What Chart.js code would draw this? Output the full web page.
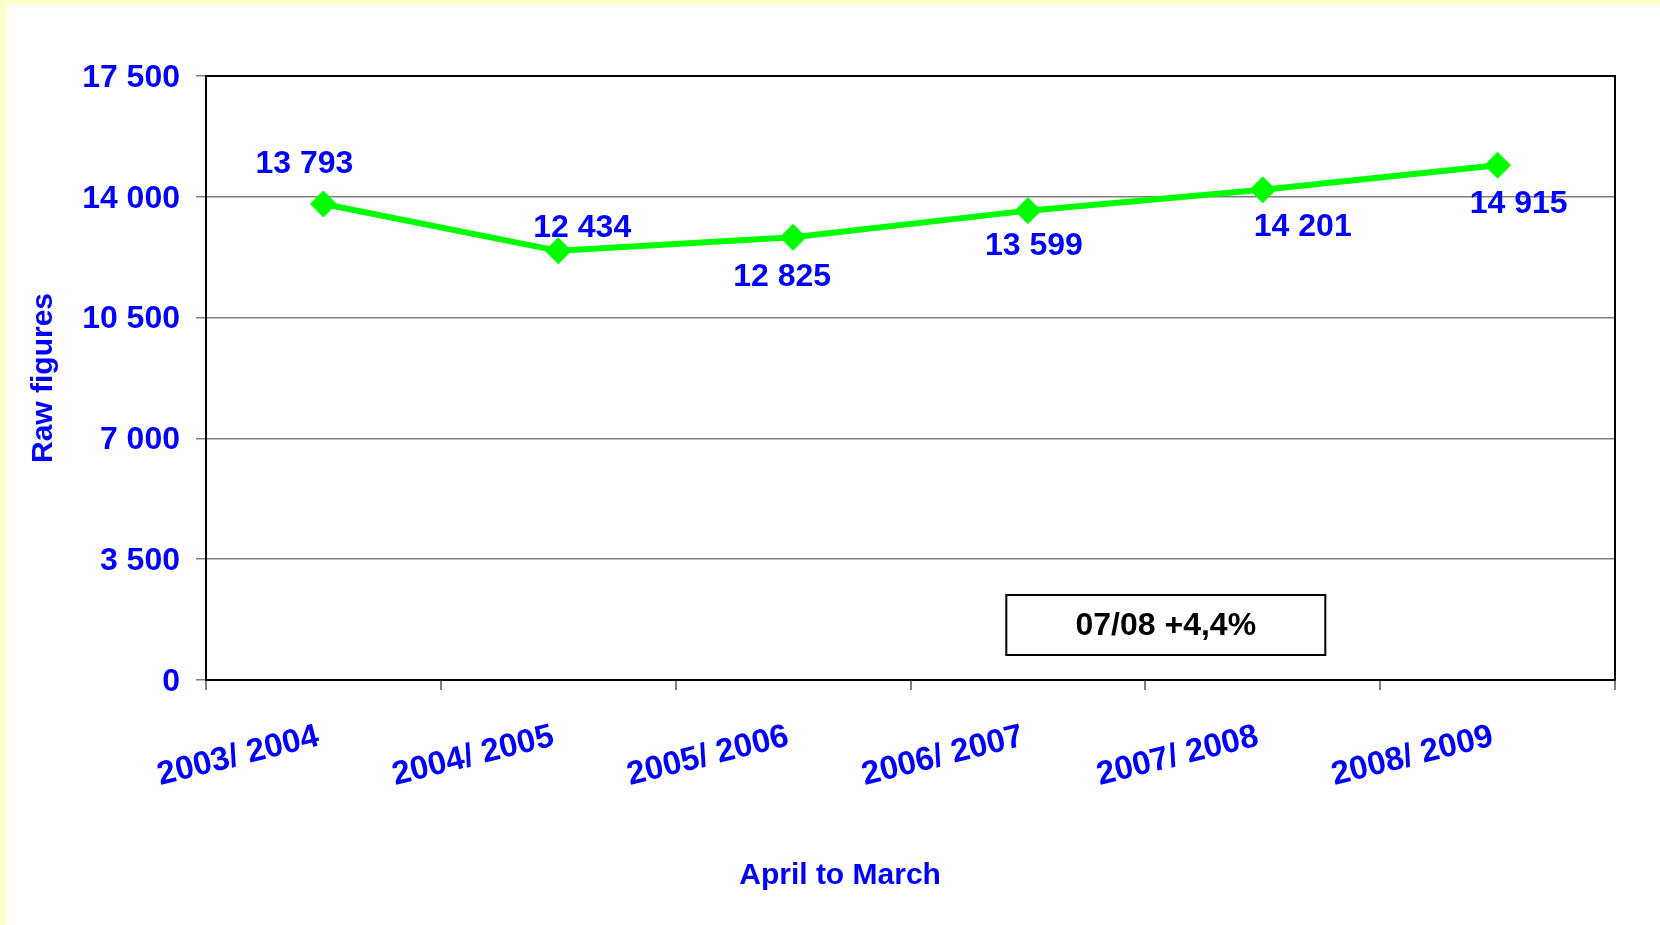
<!DOCTYPE html>
<html>
<head>
<meta charset="utf-8">
<script src="https://cdn.jsdelivr.net/npm/chart.js@4/dist/chart.umd.min.js"></script>
<style>
  body { margin: 0; background: #ffffcc; width: 1660px; height: 925px; overflow: hidden; }
  #wrap { position: absolute; left: 7px; top: 5px; width: 1653px; height: 920px; background: #ffffff; }
</style>
</head>
<body>
<div id="wrap"><canvas id="chart" width="1653" height="920"></canvas></div>
<script>
var years = ["2003/ 2004", "2004/ 2005", "2005/ 2006", "2006/ 2007", "2007/ 2008", "2008/ 2009"];
var figures = [13793, 12434, 12825, 13599, 14201, 14915];
var yTicks = [0, 3500, 7000, 10500, 14000, 17500];
var boxText = "07/08 +4,4%";
var xTitle = "April to March";

var FONT = "'Liberation Sans', Arial, sans-serif";
var BLUE = '#0000ff';

function spaced(v) {
  return String(v).replace(/\B(?=(\d{3})+(?!\d))/g, ' ');
}

// where each value label sits relative to its point
var labelShift = [[-19, -40], [24, -23], [-11, 40], [6, 36], [40, 37], [21, 39]];

var extras = {
  id: 'extras',
  afterDatasetsDraw: function (chart) {
    var c = chart.ctx, a = chart.chartArea;
    var w = a.right - a.left;
    c.save();
    // frame around plot
    c.strokeStyle = '#000';
    c.lineWidth = 2;
    c.strokeRect(a.left, a.top, w, a.bottom - a.top);

    // value labels
    c.fillStyle = BLUE;
    c.font = 'bold 32px ' + FONT;
    c.textAlign = 'center';
    c.textBaseline = 'middle';
    chart.getDatasetMeta(0).data.forEach(function (pt, i) {
      c.fillText(spaced(figures[i]), pt.x + labelShift[i][0], pt.y + labelShift[i][1]);
    });

    // x axis title, sits a bit left of centre like the original
    c.font = 'bold 30px ' + FONT;
    c.fillText(xTitle, a.left + w * 0.45, a.bottom + 196);

    // change box
    var bx = a.left + w * 0.568, bw = 319, bh = 60, by = a.bottom - 25 - bh;
    c.fillStyle = '#fff';
    c.fillRect(bx, by, bw, bh);
    c.strokeStyle = '#000';
    c.lineWidth = 2;
    c.strokeRect(bx, by, bw, bh);
    c.fillStyle = '#000';
    c.font = 'bold 32px ' + FONT;
    c.fillText(boxText, bx + bw / 2, by + bh / 2 + 1);
    c.restore();
  }
};

var ctx = document.getElementById('chart').getContext('2d');
var chart = new Chart(ctx, {
  type: 'line',
  data: {
    labels: years,
    datasets: [{
      data: figures,
      borderColor: '#00ff00',
      borderWidth: 6,
      backgroundColor: '#00ff00',
      pointStyle: 'rectRot',
      pointRadius: 13,
      pointBorderWidth: 1,
      pointBackgroundColor: '#00ff00',
      pointBorderColor: '#00ff00',
      tension: 0
    }]
  },
  options: {
    responsive: false,
    animation: false,
    layout: { padding: { left: 15, top: 71, right: 45, bottom: 29 } },
    scales: {
      x: {
        offset: true,
        grid: {
          offset: true,
          drawOnChartArea: false,
          drawTicks: true,
          tickLength: 10,
          color: '#808080',
          lineWidth: 2
        },
        border: { display: false },
        ticks: {
          color: BLUE,
          font: { family: FONT, size: 33, weight: 'bold' },
          minRotation: 14,
          maxRotation: 14,
          padding: 27,
          labelOffset: -5
        },
        afterFit: function (s) { s.height = 216; }
      },
      y: {
        min: 0,
        max: 17500,
        afterBuildTicks: function (s) { s.ticks = yTicks.map(function (v) { return { value: v }; }); },
        grid: {
          color: '#808080',
          lineWidth: 1.5,
          tickLength: 10
        },
        border: { display: false },
        ticks: {
          color: BLUE,
          padding: 16,
          labelOffset: 2,
          font: { family: FONT, size: 32, weight: 'bold' },
          callback: function (v) { return spaced(v); }
        },
        title: {
          display: true,
          text: 'Raw figures',
          color: BLUE,
          font: { family: FONT, size: 30, weight: 'bold' }
        },
        afterFit: function (s) { s.width = 184; }
      }
    },
    plugins: {
      legend: { display: false },
      tooltip: { enabled: false }
    }
  },
  plugins: [extras]
});
</script>
</body>
</html>
